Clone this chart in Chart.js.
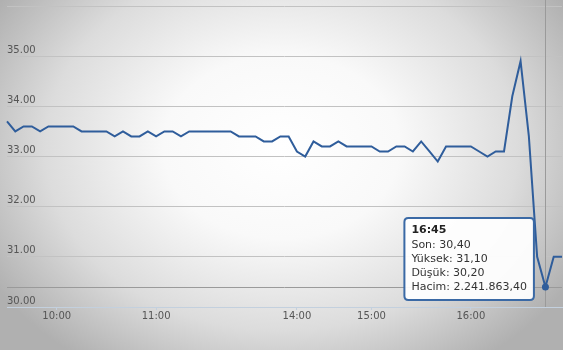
<!DOCTYPE html>
<html>
<head>
<meta charset="utf-8">
<script src="https://cdn.jsdelivr.net/npm/chart.js@4.4.1/dist/chart.umd.min.js"></script>
<style>
  html, body { margin: 0; padding: 0; }
  body {
    width: 563px; height: 350px; overflow: hidden;
    background: radial-gradient(ellipse 60% 75% at 50% 42%, #ffffff 0%, #f9f9f9 35%, #dcdcdc 70%, #b0b0b0 100%);
  }
  #wrap { position: relative; width: 563px; height: 350px; }
</style>
</head>
<body>
<div id="wrap"><canvas id="priceChart"></canvas></div>
<script>
/* --------------- Data --------------------- */
const timeLabels = [
  "09:30", "09:35", "09:40", "09:45", "09:50", "09:55", "10:00", "10:05", "10:10", "10:15",
  "10:20", "10:25", "10:30", "10:35", "10:40", "10:45", "10:50", "10:55", "11:00", "11:05",
  "11:10", "11:15", "11:20", "11:25", "11:30", "11:35", "11:40", "11:45", "11:50", "11:55",
  "12:00", "12:05", "12:10", "12:15", "12:20", "14:00", "14:05", "14:10", "14:15", "14:25",
  "14:30", "14:40", "14:45", "14:55", "15:00", "15:05", "15:10", "15:15", "15:20", "15:25",
  "15:30", "15:35", "15:40", "15:45", "15:50", "15:55", "16:00", "16:05", "16:10", "16:15",
  "16:20", "16:25", "16:30", "16:35", "16:40", "16:45", "16:50", "16:55"
];
const closeValues = [
  33.7, 33.5, 33.6, 33.6, 33.5, 33.6, 33.6, 33.6, 33.6, 33.5,
  33.5, 33.5, 33.5, 33.4, 33.5, 33.4, 33.4, 33.5, 33.4, 33.5,
  33.5, 33.4, 33.5, 33.5, 33.5, 33.5, 33.5, 33.5, 33.4, 33.4,
  33.4, 33.3, 33.3, 33.4, 33.4, 33.1, 33.0, 33.3, 33.2, 33.2,
  33.3, 33.2, 33.2, 33.2, 33.2, 33.1, 33.1, 33.2, 33.2, 33.1,
  33.3, 33.1, 32.9, 33.2, 33.2, 33.2, 33.2, 33.1, 33.0, 33.1,
  33.1, 34.2, 34.9, 33.4, 31.0, 30.4, 31.0, 31.0
];
const tickLabels = ["10:00", "11:00", "14:00", "15:00", "16:00"];
const yTicks = [30, 31, 32, 33, 34, 35];

/* --------------- Tooltip values for the hovered bar --------------------- */
const hoverLabel = "16:45";
const hoverHigh = 31.10;
const hoverLow = 30.20;
const hoverVolume = 2241863.40;

const lineColor = "#2f5d9b";
const fontFamily = "'DejaVu Sans', Verdana, sans-serif";

/* --------------- Turkish number format (1.234,56) --------------------- */
const trNumber = (v) => {
  const parts = v.toFixed(2).split(".");
  parts[0] = parts[0].replace(/\B(?=(\d{3})+(?!\d))/g, ".");
  return parts.join(",");
};

/* --------------- Tooltip sits up-left of the point --------------------- */
Chart.Tooltip.positioners.upLeft = function (items) {
  if (!items.length) return false;
  const el = items[0].element;
  return { x: el.x - 138, y: el.y - 69 };
};

/* --------------- Crosshair lines --------------------- */
const crosshair = {
  id: "crosshair",
  beforeDatasetsDraw(chart) {
    const active = chart.getActiveElements();
    if (!active.length) return;
    const { ctx, chartArea } = chart;
    const el = active[0].element;
    ctx.save();
    ctx.strokeStyle = "#9a9a9a";
    ctx.lineWidth = 1;
    ctx.beginPath();
    ctx.moveTo(Math.round(el.x) + 0.5, 0);
    ctx.lineTo(Math.round(el.x) + 0.5, chartArea.bottom);
    ctx.moveTo(chartArea.left, Math.round(el.y) + 0.5);
    ctx.lineTo(chartArea.right, Math.round(el.y) + 0.5);
    ctx.stroke();
    ctx.restore();
  },
};

const priceChart = new Chart(document.getElementById("priceChart"), {
  type: "line",
  plugins: [crosshair],
  data: {
    labels: timeLabels,
    datasets: [
      {
        data: closeValues,
        borderColor: lineColor,
        borderWidth: 2,
        tension: 0,
        pointRadius: 0,
        pointHoverRadius: 3.5,
        pointHoverBackgroundColor: lineColor,
        pointHoverBorderColor: lineColor,
        pointHoverBorderWidth: 0,
      },
    ],
  },
  options: {
    responsive: true,
    maintainAspectRatio: false,
    animation: false,
    events: [],
    layout: { padding: { left: 7, right: 0, top: 6, bottom: 28 } },
    scales: {
      x: {
        type: "category",
        offset: false,
        border: { display: true, color: "#c3d0de", width: 1 },
        grid: { drawOnChartArea: false, drawTicks: true, tickLength: 3, color: "#c3d0de" },
        ticks: {
          autoSkip: false,
          maxRotation: 0,
          padding: 0,
          color: "#555",
          font: { family: fontFamily, size: 10 },
          callback: function (value) {
            const lbl = this.getLabelForValue(value);
            return tickLabels.includes(lbl) ? lbl : null;
          },
        },
      },
      y: {
        min: 30,
        max: 36,
        border: { display: false },
        grid: { color: "#c2c2c2", drawTicks: false },
        ticks: {
          stepSize: 1,
          mirror: true,
          padding: 0,
          labelOffset: -6,
          color: "#555",
          font: { family: fontFamily, size: 10 },
          callback: (v) => (yTicks.includes(v) ? v.toFixed(2) : ""),
        },
      },
    },
    plugins: {
      legend: { display: false },
      tooltip: {
        enabled: true,
        position: "upLeft",
        xAlign: "left",
        yAlign: "top",
        caretSize: 0,
        caretPadding: 0,
        backgroundColor: "rgba(255,255,255,0.93)",
        borderColor: "#3a69a5",
        borderWidth: 2,
        cornerRadius: 4,
        titleColor: "#222",
        bodyColor: "#333",
        titleFont: { family: fontFamily, size: 11, weight: "bold" },
        bodyFont: { family: fontFamily, size: 11 },
        titleMarginBottom: 1,
        bodySpacing: 1,
        padding: { x: 7, y: 6 },
        displayColors: false,
        callbacks: {
          title: (items) => items[0].label,
          label: (ctx) => [
            "Son: " + trNumber(ctx.parsed.y),
            "Yüksek: " + trNumber(hoverHigh),
            "Düşük: " + trNumber(hoverLow),
            "Hacim: " + trNumber(hoverVolume),
          ],
        },
      },
    },
  },
});

/* --------------- Show the 16:45 point as hovered --------------------- */
const hoverIndex = timeLabels.indexOf(hoverLabel);
const activeEls = [{ datasetIndex: 0, index: hoverIndex }];
priceChart.setActiveElements(activeEls);
priceChart.tooltip.setActiveElements(activeEls, { x: 0, y: 0 });
priceChart.update();
</script>
</body>
</html>
